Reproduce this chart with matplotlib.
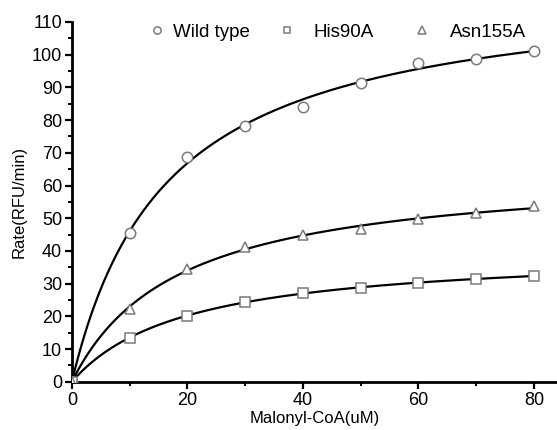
import numpy as np
import matplotlib
matplotlib.use("Agg")
import matplotlib.pyplot as plt
from matplotlib.legend import Legend
from matplotlib.ticker import MultipleLocator

plt.rcParams['font.family'] = ['Liberation Sans', 'DejaVu Sans']

conc = [0, 10, 20, 30, 40, 50, 60, 70, 80]
wild_type = [0, 45.5, 68.7, 78.3, 84.0, 91.4, 97.5, 98.6, 101.0]
his90a = [0, 13.5, 20.2, 24.4, 27.1, 28.8, 30.3, 31.5, 32.3]
asn155a = [0, 22.3, 34.6, 41.3, 44.8, 46.7, 49.8, 51.5, 53.6]

names = ["Wild type", "His90A", "Asn155A"]
markers = ["o", "s", "^"]

# legend entry placement (axes fraction x of marker, text gap)
leg_x = [0.176, 0.443, 0.722]
leg_pad = [0.35, 0.95, 1.0]


def mm_fit(x, y):
    # Michaelis-Menten least squares: scan Km, Vmax in closed form
    x = np.asarray(x, float)
    y = np.asarray(y, float)
    best = None
    for km in np.linspace(0.5, 120, 2400):
        f = x / (km + x)
        v = (y * f).sum() / (f * f).sum()
        err = ((y - v * f) ** 2).sum()
        if best is None or err < best[0]:
            best = (err, v, km)
    return best[1], best[2]


fig = plt.figure(figsize=(5.57, 4.30), dpi=100)
ax = fig.add_axes([0.129, 0.112, 0.871, 0.837])

xs = np.linspace(0, 80, 300)
handles = []
for name, m, ys in zip(names, markers, [wild_type, his90a, asn155a]):
    vmax, km = mm_fit(conc, ys)
    ax.plot(xs, vmax * xs / (km + xs), color="black", lw=1.6, zorder=2)
    h, = ax.plot(conc, ys, ls="none", marker=m, ms=7.5 if m != "s" else 7,
                 mfc="white", mec="#7a7a7a", mew=1.1, label=name, zorder=3)
    handles.append(h)

ax.set_xlim(0, 84)
ax.set_ylim(0, 110)
ax.xaxis.set_major_locator(MultipleLocator(20))
ax.xaxis.set_minor_locator(MultipleLocator(10))
ax.yaxis.set_major_locator(MultipleLocator(10))
ax.yaxis.set_minor_locator(MultipleLocator(5))
ax.tick_params(which="major", length=5, width=1.6, labelsize=13, pad=2)
ax.tick_params(which="minor", length=3, width=1.4)
for s in ["top", "right"]:
    ax.spines[s].set_visible(False)
for s in ["left", "bottom"]:
    ax.spines[s].set_linewidth(2)

ax.set_xlabel("Malonyl-CoA(uM)", fontsize=12, labelpad=2)
ax.set_ylabel("Rate(RFU/min)", fontsize=12, labelpad=4)

# one legend per entry so each can sit where the original has it
fs = 13.5
off = 0.5 * fs / 72 * fig.dpi / ax.bbox.width
for h, name, lx, pad in zip(handles, names, leg_x, leg_pad):
    lg = Legend(ax, [h], [name], loc="center left", bbox_to_anchor=(lx - off, 0.972),
                frameon=False, fontsize=fs, markerscale=0.7, handlelength=1.0,
                handletextpad=pad, borderpad=0, borderaxespad=0)
    ax.add_artist(lg)

fig.savefig("out.png", dpi=100)
